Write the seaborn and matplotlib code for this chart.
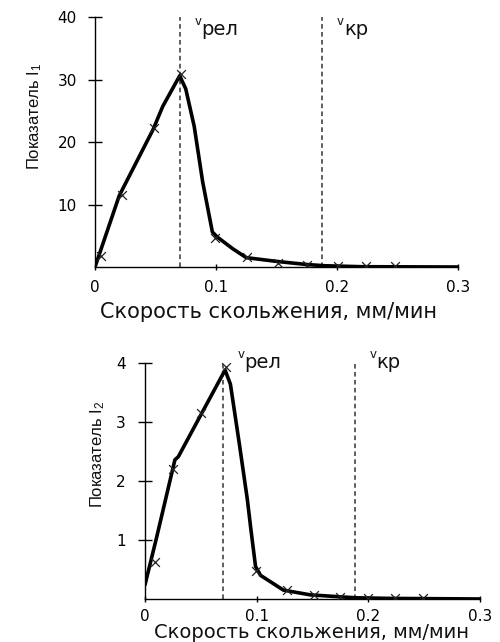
import matplotlib
matplotlib.use("Agg")
import matplotlib.pyplot as plt
import seaborn as sns
import numpy as np
import pandas as pd

# ---------------- data ----------------
# Panel 1: index I1
line1_x = [0, 0.02, 0.048, 0.056, 0.070, 0.075, 0.082, 0.089, 0.097, 0.101, 0.114, 0.125, 0.15, 0.175, 0.19, 0.22, 0.3]
line1_y = [0, 11.4, 22.0, 25.7, 30.6, 28.5, 22.5, 13.6, 5.6, 4.8, 2.9, 1.5, 0.9, 0.4, 0.2, 0.05, 0]
pts1_x = [0.005, 0.022, 0.049, 0.071, 0.099, 0.126, 0.151, 0.175, 0.201, 0.224, 0.248]
pts1_y = [1.8, 11.6, 22.3, 30.9, 4.7, 1.6, 0.7, 0.3, 0.1, 0.1, 0.1]

# Panel 2: index I2
line2_x = [0, 0.0106, 0.0268, 0.0298, 0.050, 0.0717, 0.0765, 0.0844, 0.0917, 0.0947, 0.099, 0.1035, 0.124, 0.148, 0.172, 0.189, 0.22, 0.3]
line2_y = [0.24, 1.06, 2.36, 2.41, 3.12, 3.88, 3.64, 2.64, 1.68, 1.2, 0.55, 0.40, 0.15, 0.07, 0.04, 0.02, 0.01, 0]
pts2_x = [0.0086, 0.0254, 0.050, 0.0725, 0.0996, 0.127, 0.151, 0.175, 0.1994, 0.224, 0.249]
pts2_y = [0.62, 2.2, 3.15, 3.93, 0.48, 0.15, 0.06, 0.03, 0.02, 0.02, 0.02]

v_rel = 0.07
v_kr = 0.188

x_ticks = [0, 0.1, 0.2, 0.3]
x_ticklabels = ["0", "0.1", "0.2", "0.3"]
y1_ticks = [10, 20, 30, 40]
y2_ticks = [1, 2, 3, 4]
xlabel = "Скорость скольжения, мм/мин"
ylabel1 = "Показатель I$_1$"
ylabel2 = "Показатель I$_2$"

# ---------------- style ----------------
sns.set_style("ticks")
plt.rcParams["font.family"] = ["DejaVu Sans"]
plt.rcParams["mathtext.fontset"] = "custom"
plt.rcParams["mathtext.rm"] = "Liberation Sans"
plt.rcParams["mathtext.it"] = "Liberation Sans"

fig = plt.figure(figsize=(5.0, 6.42), dpi=100)
ax1 = fig.add_axes([0.19, 0.5841, 0.726, 0.3894])
ax2 = fig.add_axes([0.29, 0.067, 0.67, 0.3676])

narrow = ["Liberation Sans", "DejaVu Sans"]

def draw(ax, lx, ly, px, py, ymax, yticks, ylab, ylab_xy, xlab_xy, ypad, xpad,
         lab_y, xl_size):
    df_line = pd.DataFrame({"x": lx, "y": ly})
    df_pts = pd.DataFrame({"x": px, "y": py})
    sns.lineplot(data=df_line, x="x", y="y", ax=ax, color="black", lw=2.6,
                 sort=False, estimator=None)
    sns.scatterplot(data=df_pts, x="x", y="y", ax=ax, marker="x", color="#222222",
                    s=40, linewidth=0.9, zorder=4)
    for xv, lab in [(v_rel, "рел"), (v_kr, "кр")]:
        ax.axvline(xv, color="#333333", lw=1.1, ls=(0, (3, 2.2)), zorder=1)
        ax.annotate("v", xy=(xv, lab_y), xycoords="data", xytext=(10.5, 5),
                    textcoords="offset points", fontsize=8.5, va="bottom",
                    ha="left", color="#111111")
        ax.annotate(lab, xy=(xv, lab_y), xycoords="data", xytext=(15.5, 0),
                    textcoords="offset points", fontsize=14, va="baseline",
                    ha="left", color="#111111")
    ax.set_xlim(0, 0.3)
    ax.set_ylim(0, ymax)
    ax.set_xticks(x_ticks)
    ax.set_xticklabels(x_ticklabels)
    ax.set_yticks(yticks)
    ax.tick_params(axis="y", direction="inout", length=10, width=1, pad=ypad,
                   labelsize=11, colors="black")
    ax.tick_params(axis="x", direction="inout", length=5, width=1, pad=xpad,
                   labelsize=11, colors="black")
    for sp in ["top", "right"]:
        ax.spines[sp].set_visible(False)
    for sp in ["left", "bottom"]:
        ax.spines[sp].set_color("black")
        ax.spines[sp].set_linewidth(1)
    ax.set_xlabel(xlabel, fontsize=xl_size, color="#111111")
    ax.xaxis.set_label_coords(*xlab_xy)
    ax.set_ylabel(ylab, fontsize=12, family=narrow, color="#111111")
    ax.yaxis.set_label_coords(*ylab_xy)

draw(ax1, line1_x, line1_y, pts1_x, pts1_y, 40, y1_ticks, ylabel1,
     (-0.14, 0.604), (0.477, -0.14), 8, 6.5, 37.2, 15)
draw(ax2, line2_x, line2_y, pts2_x, pts2_y, 4, y2_ticks, ylabel2,
     (-0.113, 0.614), (0.4985, -0.103), 9, 4.5, 3.92, 14)

fig.savefig("out.png", dpi=100)
